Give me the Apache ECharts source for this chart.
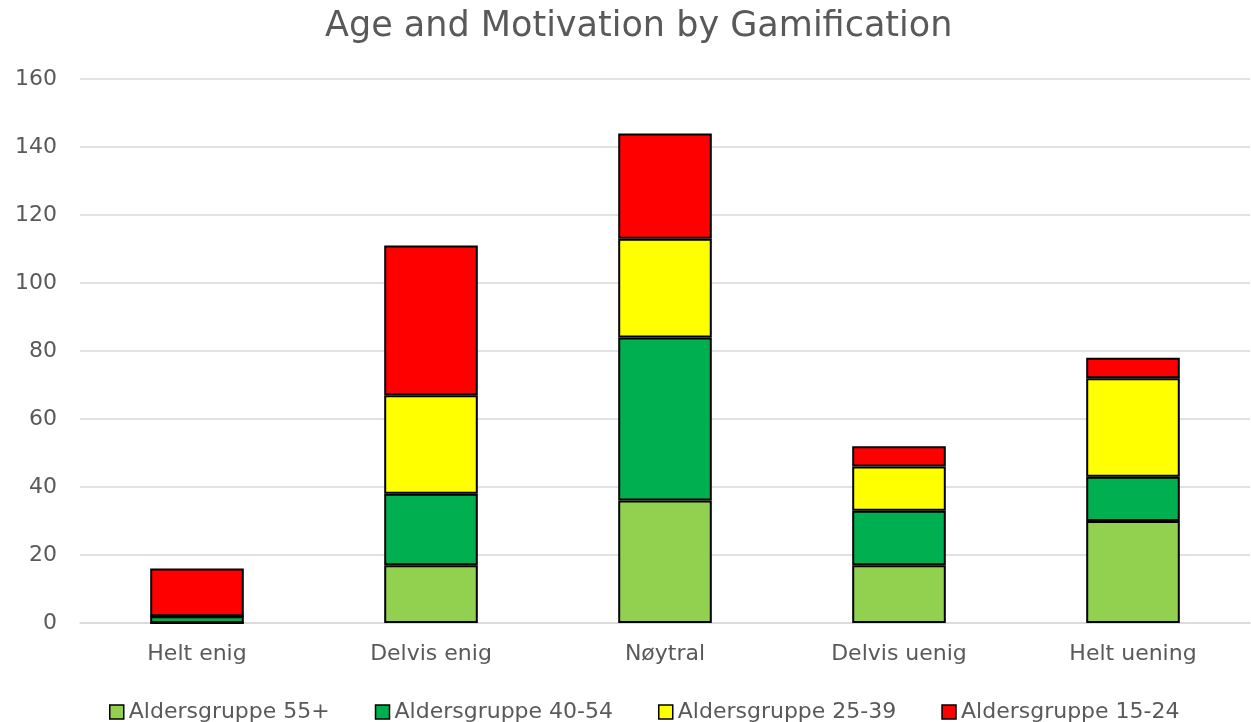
<!DOCTYPE html>
<html>
<head>
<meta charset="utf-8">
<script src="https://cdn.jsdelivr.net/npm/echarts@6/dist/echarts.min.js"></script>
<style>
  html, body { margin: 0; padding: 0; background: #fff; }
  #chart { width: 1251px; height: 722px; }
</style>
</head>
<body>
<div id="chart"></div>
<script>
// Responses per agreement level, stacked by age group
const categories = ['Helt enig', 'Delvis enig', 'Nøytral', 'Delvis uenig', 'Helt uening'];
const age55plus = [0, 17, 36, 17, 30];
const age40to54 = [2, 21, 48, 16, 13];
const age25to39 = [0, 29, 29, 13, 29];
const age15to24 = [14, 44, 31, 6, 6];
const yTicks = { min: 0, max: 160, interval: 20 };

const seriesDefs = [
  { name: 'Aldersgruppe 55+', data: age55plus, color: '#92d050' },
  { name: 'Aldersgruppe 40-54', data: age40to54, color: '#00b050' },
  { name: 'Aldersgruppe 25-39', data: age25to39, color: '#ffff00' },
  { name: 'Aldersgruppe 15-24', data: age15to24, color: '#ff0000' }
];

const FONT = '"DejaVu Sans", sans-serif';
const TEXT = '#595959';

const chart = echarts.init(document.getElementById('chart'));
chart.setOption({
  animation: false,
  title: {
    text: 'Age and Motivation by Gamification',
    left: 320,
    top: 4,
    textStyle: { fontFamily: FONT, fontSize: 35, fontWeight: 'normal', color: TEXT }
  },
  legend: {
    top: 696,
    left: 104,
    itemWidth: 14,
    itemHeight: 14,
    itemGap: 45,
    icon: 'rect',
    textStyle: { fontSize: 22, color: TEXT, fontFamily: FONT },
    data: seriesDefs.map(s => ({ name: s.name, itemStyle: { borderColor: '#000', borderWidth: 1.5 } }))
  },
  grid: { left: 80, right: 1, top: 79, bottom: 99, containLabel: false },
  xAxis: {
    type: 'category',
    data: categories,
    axisTick: { show: false },
    axisLine: { lineStyle: { color: '#d9d9d9', width: 1.5 } },
    axisLabel: { fontSize: 22, color: TEXT, margin: 20, fontFamily: FONT }
  },
  yAxis: {
    type: 'value',
    min: yTicks.min,
    max: yTicks.max,
    interval: yTicks.interval,
    axisLine: { show: false },
    axisTick: { show: false },
    splitLine: { lineStyle: { color: '#d9d9d9', width: 1.5 } },
    axisLabel: { fontSize: 22, color: TEXT, margin: 23, fontFamily: FONT }
  },
  series: seriesDefs.map(s => ({
    name: s.name,
    type: 'bar',
    stack: 'total',
    barWidth: '40%',
    data: s.data,
    itemStyle: { color: s.color, borderColor: '#000', borderWidth: 2 }
  }))
});
</script>
</body>
</html>
